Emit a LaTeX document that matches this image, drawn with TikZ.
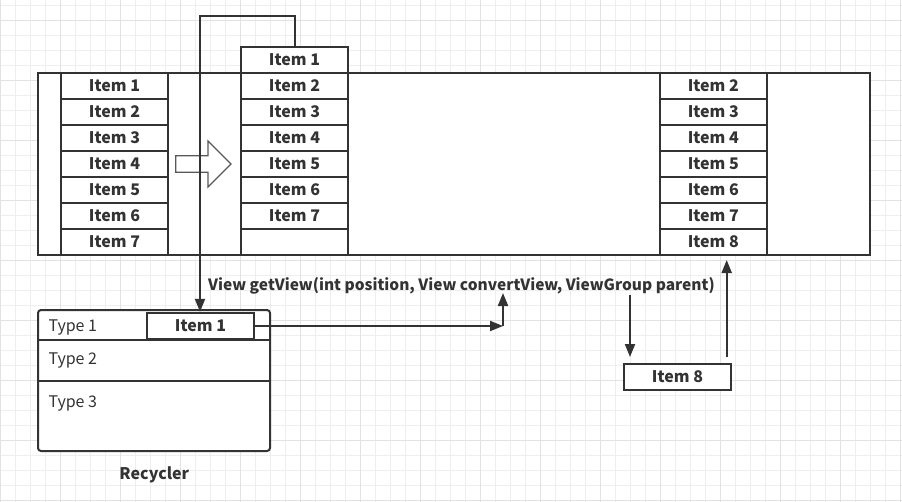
\documentclass[tikz,border=0pt]{standalone}
\usepackage{fontspec}
\newfontfamily\cjk{Noto Sans CJK SC}
\usetikzlibrary{arrows.meta}
\definecolor{ink}{HTML}{333333}
\definecolor{gridminor}{HTML}{EEEEEE}
\definecolor{gridmajor}{HTML}{E2E2E2}
\tikzset{
  frame/.style={draw=ink, line width=2pt},
  cell/.style={draw=ink, line width=2pt, fill=white, minimum width=107pt, minimum height=26pt,
    inner sep=0pt, text=ink, font=\cjk\bfseries\fontsize{16}{19}\selectfont},
  boldtext/.style={inner sep=0pt, text=ink, font=\cjk\bfseries\fontsize{16}{19}\selectfont},
  typetext/.style={inner sep=0pt, text=ink, anchor=base west, font=\cjk\fontsize{16}{19}\selectfont},
  conn/.style={draw=ink, line width=2pt, -{Triangle[length=13pt,width=10pt]}}
}
\begin{document}
\begin{tikzpicture}[x=1pt,y=-1pt]
\useasboundingbox (0,0) rectangle (902,501);
\fill[white] (0,0) rectangle (902,501);
\begin{scope}
\clip (0,0) rectangle (902,501);
\draw[gridminor, line width=1pt, shift={(0.7,5.7)}] (-30,-30) grid[step=15pt] (930,530);
\draw[gridmajor, line width=1pt, shift={(0.7,20.7)}] (-60,-60) grid[step=60pt] (960,560);
\end{scope}

%\draw (38,73) rectangle (870,255);
\draw[frame, fill=white] (38,73) rectangle (870,255);

\node[cell] (l1) at (114.5,86) {Item 1};
\node[cell] (l2) at (114.5,112) {Item 2};
\node[cell] (l3) at (114.5,138) {Item 3};
\node[cell] (l4) at (114.5,164) {Item 4};
\node[cell] (l5) at (114.5,190) {Item 5};
\node[cell] (l6) at (114.5,216) {Item 6};
\node[cell] (l7) at (114.5,242) {Item 7};

%-------------------------------------
\node[cell] (m1) at (294.5,60) {Item 1};
\node[cell] (m2) at (294.5,86) {Item 2};
\node[cell] (m3) at (294.5,112) {Item 3};
\node[cell] (m4) at (294.5,138) {Item 4};
\node[cell] (m5) at (294.5,164) {Item 5};
\node[cell] (m6) at (294.5,190) {Item 6};
\node[cell] (m7) at (294.5,216) {Item 7};
\node[cell] (m8) at (294.5,242) {};

%-------------------------------------
\node[cell] (r2) at (713.3,86) {Item 2};
\node[cell] (r3) at (713.3,112) {Item 3};
\node[cell] (r4) at (713.3,138) {Item 4};
\node[cell] (r5) at (713.3,164) {Item 5};
\node[cell] (r6) at (713.3,190) {Item 6};
\node[cell] (r7) at (713.3,216) {Item 7};
\node[cell] (r8) at (713.3,242) {Item 8};

\draw[draw=gray!70!black, line width=1.3pt, fill=white]
  (175.7,155.7) -- (208,155.7) -- (208,141) -- (231,164) -- (208,187)
  -- (208,172.3) -- (175.7,172.3) -- cycle;

%-------------------------------------
\draw[frame, fill=white, rounded corners=3pt] (38,310) rectangle (270,451);
\draw[frame] (38,340) -- (270,340);
\draw[frame] (38,381) -- (270,381);
\node[typetext] (t1) at (48.3,331.7) {Type 1};
\node[typetext] (t2) at (48.3,364.5) {Type 2};
\node[typetext] (t3) at (48.3,407.5) {Type 3};
\node[cell, line width=2.4pt] (c1) at (200.5,326) {Item 1};
\node[boldtext, anchor=base] (recycler) at (154.3,479) {Recycler};

\node[boldtext, anchor=base, font=\cjk\bfseries\fontsize{15.5}{18}\selectfont] (call) at (461.5,290) {View getView(int position, View convertView, ViewGroup parent)};
\node[cell, minimum width=107.6pt] (n8) at (677.5,377) {Item 8};

\coordinate (loop) at (200,16.3);
\coordinate (turn) at (503,326);
\coordinate (callfoot) at (503,293);
\coordinate (down0) at (630,295);
\coordinate (down1) at (630,357);
\coordinate (up0) at (726.7,357);
\coordinate (up1) at (726.7,260);

\draw[conn] (m1.north) |- (loop) -- (loop |- c1.north);
\draw[conn] (c1.east) -- (turn);
\draw[conn] (turn) -- (callfoot);
\draw[conn] (down0) -- (down1);
\draw[conn] (up0) -- (up1);
\end{tikzpicture}
\end{document}
